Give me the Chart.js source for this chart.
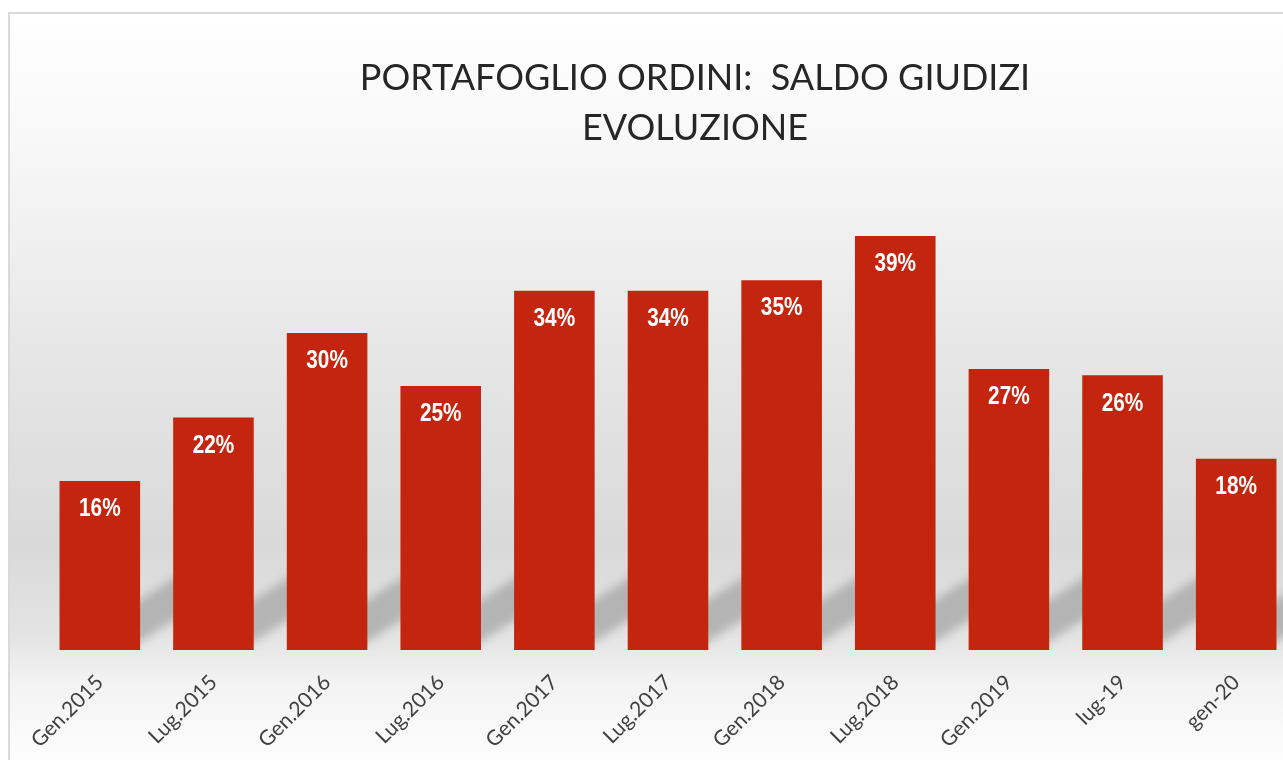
<!DOCTYPE html>
<html>
<head>
<meta charset="utf-8">
<script src="https://cdn.jsdelivr.net/npm/chart.js@4"></script>
<style>
  html, body { margin: 0; padding: 0; overflow: hidden; background: #fff; }
  #frame {
    position: absolute; left: 8px; top: 12px;
    width: 1372px; height: 760px;
    border: 2px solid #dadada;
    background: linear-gradient(to bottom, #ffffff 0%, #f7f7f7 18%, #e6e6e6 45%, #d9d9d9 70%, #e4e4e4 82%, #f3f3f3 88%, #ffffff 100%);
  }
  #myChart { position: absolute; left: 0; top: 0; }
</style>
</head>
<body>
<div id="frame">
  <canvas id="myChart" width="1337" height="760"></canvas>
</div>
<script>
// data
const periods = ["Gen.2015", "Lug.2015", "Gen.2016", "Lug.2016", "Gen.2017", "Lug.2017",
                 "Gen.2018", "Lug.2018", "Gen.2019", "lug-19", "gen-20"];
const saldo = [16, 22, 30, 25, 34, 34, 35, 39.2, 26.6, 26, 18.1];
const titleLines = ["PORTAFOGLIO ORDINI:  SALDO GIUDIZI", "EVOLUZIONE"];

// slanted grey shadow to the right of each bar
const barShadows = {
  id: "barShadows",
  beforeDatasetsDraw(chart) {
    const ctx = chart.ctx;
    const area = chart.chartArea;
    ctx.save();
    ctx.beginPath();
    ctx.rect(area.left, area.top, area.right - area.left, area.bottom - area.top);
    ctx.clip();
    ctx.filter = "blur(5px)";
    ctx.fillStyle = "rgba(150,150,150,0.6)";
    chart.getDatasetMeta(0).data.forEach((bar) => {
      const xr = bar.x + bar.width / 2;
      const b = bar.base;
      ctx.beginPath();
      ctx.moveTo(xr - 10, b - 2);
      ctx.lineTo(xr - 10, b - 44);
      ctx.lineTo(xr + 50, b - 82);
      ctx.lineTo(xr + 50, b - 40);
      ctx.closePath();
      ctx.fill();
    });
    ctx.restore();
  },
};

// white value labels inside the top of the bars
const valueLabels = {
  id: "valueLabels",
  afterDatasetsDraw(chart) {
    const ctx = chart.ctx;
    const values = chart.data.datasets[0].data;
    ctx.save();
    ctx.fillStyle = "#ffffff";
    ctx.font = 'bold 26px "Liberation Sans", sans-serif';
    ctx.textAlign = "center";
    ctx.textBaseline = "middle";
    chart.getDatasetMeta(0).data.forEach((bar, i) => {
      ctx.save();
      ctx.translate(bar.x, bar.y + 28);
      ctx.scale(0.8, 1);
      ctx.fillText(Math.round(values[i]) + "%", 0, 0);
      ctx.restore();
    });
    ctx.restore();
  },
};

const data = {
  labels: periods,
  datasets: [
    {
      label: "Saldo giudizi",
      data: saldo,
      backgroundColor: "#c3250f",
      borderWidth: 0,
      categoryPercentage: 1,
      barPercentage: 0.709,
    },
  ],
};

const config = {
  type: "bar",
  data,
  options: {
    responsive: false,
    animation: false,
    devicePixelRatio: 1,
    layout: { padding: { left: 33, right: 0, top: 0, bottom: 24 } },
    plugins: {
      legend: { display: false },
      tooltip: { enabled: false },
      title: {
        display: true,
        text: titleLines,
        color: "#262626",
        font: { family: "Lato", size: 36, weight: "normal", lineHeight: 1.37 },
        padding: { top: 40, bottom: 22 },
      },
    },
    scales: {
      x: {
        grid: { display: false },
        border: { display: false },
        ticks: {
          color: "#404040",
          font: { family: "Lato", size: 21 },
          minRotation: 45,
          maxRotation: 45,
          padding: 12,
        },
        afterFit(scale) {
          scale.height = 100;
        },
      },
      y: {
        position: "right",
        min: 0,
        max: 45,
        grid: { display: false },
        border: { display: false },
        ticks: { display: false },
        afterFit(scale) {
          scale.width = 54;
        },
      },
    },
  },
  plugins: [barShadows, valueLabels],
};

const myChart = new Chart(document.getElementById("myChart"), config);
</script>
</body>
</html>
